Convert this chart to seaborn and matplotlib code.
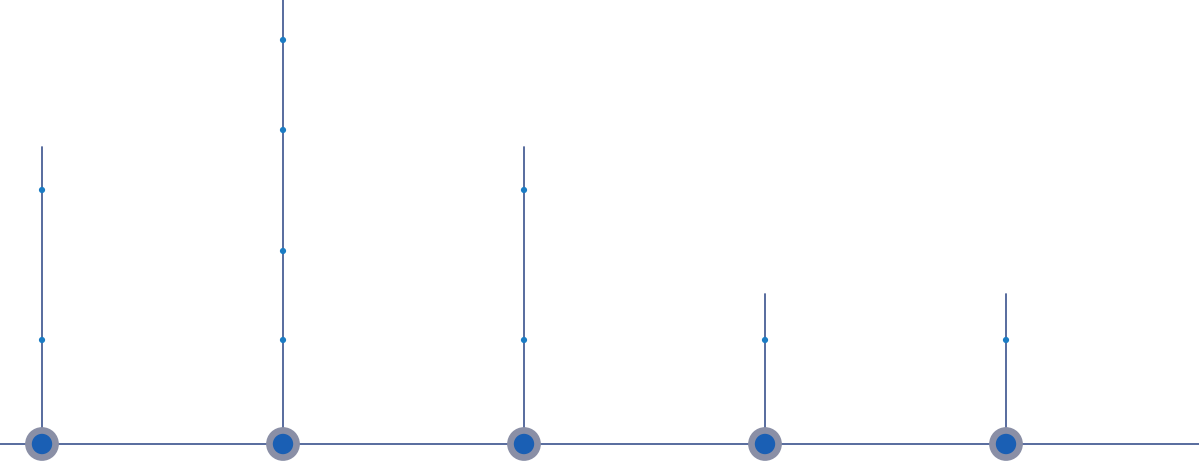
import matplotlib
matplotlib.use("Agg")
import matplotlib.pyplot as plt
import seaborn as sns
import pandas as pd

# stem positions (index) and heights above the baseline
stems = [0, 1, 2, 3, 4]
stem_tops = [297, 470, 297, 150, 150]
# small markers on each stem: (stem index, height)
dot_stem = [0, 0, 1, 1, 1, 1, 2, 2, 3, 4]
dot_height = [254, 104, 404, 314, 193, 104, 254, 104, 104, 104]

sns.set_style("white")
fig = plt.figure(figsize=(11.99, 4.64), dpi=100)
ax = fig.add_axes([0, 0, 1, 1])

line_col = "#4a6096"
for s, top in zip(stems, stem_tops):
    ax.plot([s, s], [0, top], color=line_col, lw=1.3, zorder=1)
ax.axhline(0, color=line_col, lw=1.3, zorder=1)

dots = pd.DataFrame({"x": dot_stem, "y": dot_height})
sns.scatterplot(data=dots, x="x", y="y", ax=ax, s=20, color="#1a7cc4",
                edgecolor="none", zorder=3)

base = pd.DataFrame({"x": stems, "y": [0] * len(stems)})
sns.scatterplot(data=base, x="x", y="y", ax=ax, s=590, color="#8a8fa6",
                edgecolor="none", zorder=2)
sns.scatterplot(data=base, x="x", y="y", ax=ax, s=215, color="#1a5fb4",
                edgecolor="none", zorder=3)

ax.set_xlim(-42 / 241, (1199 - 42) / 241)
ax.set_ylim(-19, 445)
ax.axis("off")
fig.savefig("out.png", dpi=100)
